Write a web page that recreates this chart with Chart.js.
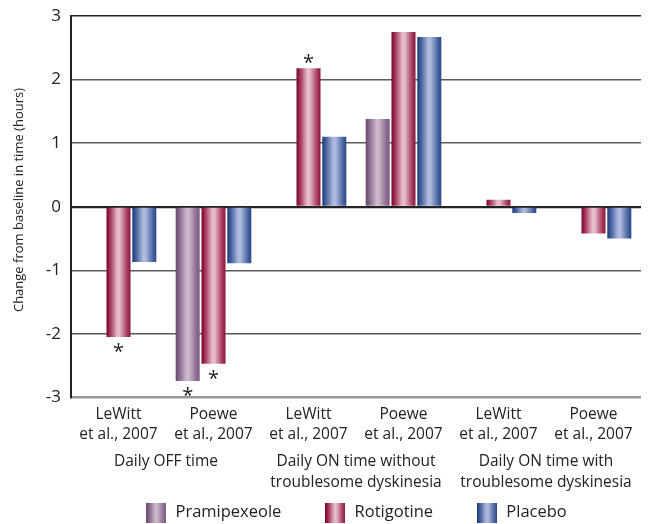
<!DOCTYPE html>
<html>
<head>
<meta charset="utf-8">
<script src="https://cdn.jsdelivr.net/npm/chart.js@4.4.1/dist/chart.umd.min.js"></script>
<style>
    html, body { margin: 0; padding: 0; background: #fff; }
    #wrap { width: 650px; height: 524px; }
</style>
</head>
<body>
<div id="wrap"><canvas id="chart"></canvas></div>
<script>
    const studies = [
        ["LeWitt", "et al., 2007"], ["Poewe", "et al., 2007"],
        ["LeWitt", "et al., 2007"], ["Poewe", "et al., 2007"],
        ["LeWitt", "et al., 2007"], ["Poewe", "et al., 2007"]
    ];
    const outcomes = [
        ["Daily OFF time"],
        ["Daily ON time without", "troublesome dyskinesia"],
        ["Daily ON time with", "troublesome dyskinesia"]
    ];
    const pramipexole = [null, -2.74, null, 1.38, null, null];
    const rotigotine = [-2.05, -2.47, 2.18, 2.75, 0.11, -0.42];
    const placebo = [-0.87, -0.89, 1.10, 2.67, -0.10, -0.50];
    const pramStars = [false, true, false, false, false, false];
    const rotStars = [true, true, true, false, false, false];
    const yTicks = [-3, -2, -1, 0, 1, 2, 3];

    const fontFamily = "'Open Sans', 'DejaVu Sans', sans-serif";

    // edge / mid / centre colours of the cylinder look
    const shades = {
        pram: ["#6a476e", "#8c6e90", "#cbb8cb", "#7d5d82"],
        rot: ["#7a0030", "#a83f62", "#e6bcc7", "#8c1440"],
        plac: ["#1b3979", "#4c67a3", "#aeb9de", "#264785"]
    };

    const makeGradient = (ctx, x0, x1, c) => {
        const g = ctx.createLinearGradient(x0, 0, x1, 0);
        g.addColorStop(0, c[0]);
        g.addColorStop(0.18, c[1]);
        g.addColorStop(0.45, c[2]);
        g.addColorStop(0.55, c[2]);
        g.addColorStop(0.85, c[1]);
        g.addColorStop(1, c[3]);
        return g;
    };

    const swatch = (c) => {
        const cv = document.createElement("canvas");
        cv.width = 20;
        cv.height = 20;
        const cx = cv.getContext("2d");
        cx.fillStyle = makeGradient(cx, 0, 20, c);
        cx.fillRect(0, 0, 20, 20);
        return cv;
    };

    const barShading = {
        id: "barShading",
        beforeDatasetsDraw(chart) {
            const ctx = chart.ctx;
            chart.data.datasets.forEach((ds, i) => {
                const meta = chart.getDatasetMeta(i);
                meta.data.forEach(bar => {
                    if (!bar.options || Object.isFrozen(bar.options)) {
                        return;
                    }
                    bar.options.backgroundColor = makeGradient(ctx, bar.x - bar.width / 2, bar.x + bar.width / 2, ds.shade);
                });
            });
        }
    };

    const starMarks = {
        id: "starMarks",
        afterDatasetsDraw(chart) {
            const ctx = chart.ctx;
            ctx.save();
            ctx.font = `20px ${fontFamily}`;
            ctx.fillStyle = "#222";
            ctx.textAlign = "center";
            ctx.textBaseline = "alphabetic";
            chart.data.datasets.forEach((ds, i) => {
                if (!ds.stars) {
                    return;
                }
                const meta = chart.getDatasetMeta(i);
                ds.stars.forEach((on, j) => {
                    if (!on || ds.data[j] == null) {
                        return;
                    }
                    const bar = meta.data[j];
                    const y = ds.data[j] < 0 ? bar.y + 21 : bar.y + 1;
                    ctx.fillText("*", bar.x, y);
                });
            });
            ctx.restore();
        }
    };

    const outcomeLabels = {
        id: "outcomeLabels",
        afterDraw(chart) {
            const ctx = chart.ctx;
            const x = chart.scales.x;
            const base = chart.chartArea.bottom;
            ctx.save();
            ctx.font = `15.5px ${fontFamily}`;
            ctx.fillStyle = "#222";
            ctx.textAlign = "center";
            ctx.textBaseline = "middle";
            outcomes.forEach((lines, k) => {
                const cx = (x.getPixelForValue(2 * k) + x.getPixelForValue(2 * k + 1)) / 2;
                lines.forEach((t, n) => ctx.fillText(t, cx, base + 64 + n * 21));
            });
            ctx.restore();
        }
    };

    const keepOwnOptions = (ctx) => ctx.dataset.shade[2];

    new Chart(document.getElementById("chart"), {
        type: "bar",
        data: {
            labels: studies,
            datasets: [
                { label: "Pramipexeole", data: pramipexole, shade: shades.pram, stars: pramStars, backgroundColor: keepOwnOptions },
                { label: "Rotigotine", data: rotigotine, shade: shades.rot, stars: rotStars, backgroundColor: keepOwnOptions },
                { label: "Placebo", data: placebo, shade: shades.plac, backgroundColor: keepOwnOptions }
            ]
        },
        options: {
            responsive: true,
            maintainAspectRatio: false,
            animation: false,
            datasets: {
                bar: {
                    categoryPercentage: 0.815,
                    barPercentage: 0.93,
                    borderWidth: 0
                }
            },
            layout: {
                padding: { top: 16, right: 9, bottom: -7, left: 0 }
            },
            scales: {
                x: {
                    grid: { display: false, drawTicks: false },
                    border: { display: false },
                    ticks: {
                        color: "#222",
                        font: { family: fontFamily, size: 15.5, lineHeight: 1.3 },
                        padding: 7,
                        maxRotation: 0,
                        autoSkip: false
                    },
                    afterFit: (scale) => { scale.height = 64; }
                },
                y: {
                    min: -3,
                    max: 3,
                    afterBuildTicks: (scale) => { scale.ticks = yTicks.map(v => ({ value: v })); },
                    afterFit: (scale) => {
                        scale.width = 71;
                        scale.paddingTop = 0;
                        scale.paddingBottom = 0;
                    },
                    border: { display: true, color: "#222", width: 2 },
                    grid: {
                        drawTicks: false,
                        color: (c) => {
                            const v = c.tick.value;
                            if (v === -3) return "#9a9a9a";
                            if (v === 0 || v === 3) return "#222";
                            return "#5a5a5a";
                        },
                        lineWidth: (c) => {
                            const v = c.tick.value;
                            if (v === -3) return 2.5;
                            if (v === 0) return 2.2;
                            return 1.5;
                        }
                    },
                    ticks: {
                        color: "#222",
                        font: { family: fontFamily, size: 17 },
                        padding: 10
                    },
                    title: {
                        display: true,
                        // leading spaces nudge the centred title a little upwards, as in the original
                        text: "    Change from baseline in time (hours)",
                        color: "#222",
                        font: { family: fontFamily, size: 13 },
                        padding: { top: 11, bottom: 0 }
                    }
                }
            },
            plugins: {
                tooltip: { enabled: false },
                legend: {
                    position: "bottom",
                    fullSize: false,
                    labels: {
                        usePointStyle: true,
                        pointStyleWidth: 22,
                        padding: 43,
                        color: "#222",
                        font: { family: fontFamily, size: 16.5 },
                        generateLabels: (chart) => chart.data.datasets.map((ds, i) => ({
                            text: ds.label,
                            pointStyle: swatch(ds.shade),
                            fillStyle: ds.shade[2],
                            strokeStyle: "rgba(0,0,0,0)",
                            lineWidth: 0,
                            hidden: false,
                            datasetIndex: i,
                            fontColor: "#222"
                        }))
                    }
                }
            }
        },
        plugins: [barShading, starMarks, outcomeLabels]
    });
</script>
</body>
</html>
